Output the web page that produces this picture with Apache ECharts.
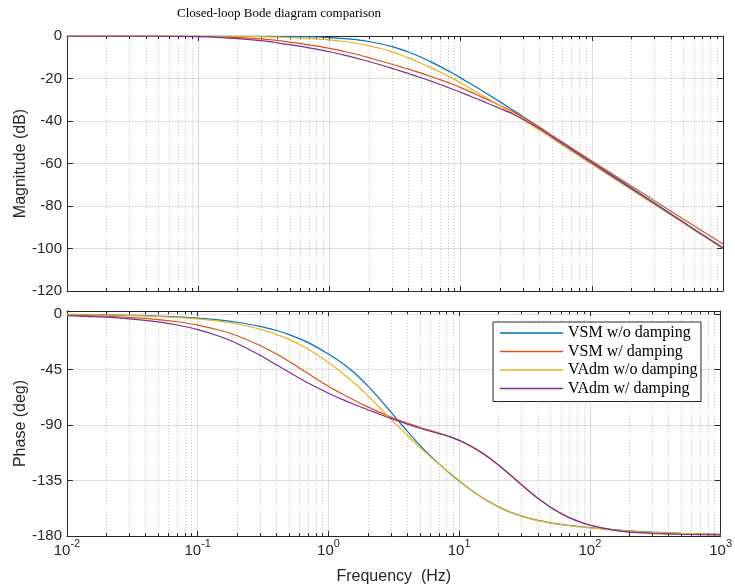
<!DOCTYPE html>
<html><head><meta charset="utf-8">
<script src="https://cdn.jsdelivr.net/npm/echarts@6/dist/echarts.min.js"></script>
<style>html,body{margin:0;padding:0;background:#fff}#c{width:735px;height:587px}</style>
</head><body><div id="c"></div>
<script>
// Frequency points (Hz)
const freq = [0.01, 0.02, 0.03, 0.05, 0.07, 0.1, 0.15, 0.2, 0.3, 0.4, 0.5, 0.7, 1, 1.3, 1.6, 2, 2.5, 3, 3.5, 4, 5, 6, 7, 8.5, 10, 12, 15, 17.5, 20, 25, 30, 35, 40, 50, 60, 70, 85, 100, 150, 200, 300, 500, 700, 1000];

// Magnitude (dB)
const magVsmNoDamp  = [0, 0, 0, 0, 0, -0.01, -0.02, -0.03, -0.07, -0.12, -0.19, -0.36, -0.72, -1.19, -1.74, -2.58, -3.76, -5.0, -6.3, -7.55, -10.0, -12.3, -14.4, -17.2, -19.7, -22.6, -26.2, -28.8, -31.0, -34.8, -38.0, -40.7, -43.0, -47.0, -50.2, -52.9, -56.4, -59.2, -66.3, -71.4, -78.6, -87.6, -93.5, -99.7];
const magVsmDamp    = [0, -0.01, -0.02, -0.05, -0.09, -0.17, -0.38, -0.65, -1.35, -2.1, -2.9, -4.2, -5.8, -7.3, -8.6, -10.2, -11.9, -13.3, -14.5, -15.6, -17.5, -19.15, -20.6, -22.5, -24.3, -26.4, -29.1, -31.0, -32.7, -35.6, -38.3, -40.8, -43.0, -46.9, -50.0, -52.7, -56.0, -58.8, -65.7, -70.6, -77.5, -86.2, -91.9, -97.9];
const magVAdmNoDamp = [0, 0, 0, -0.01, -0.02, -0.04, -0.09, -0.15, -0.3, -0.5, -0.7, -1.1, -1.8, -2.6, -3.4, -4.5, -6.0, -7.5, -8.94, -10.3, -12.8, -15.0, -16.95, -19.6, -22.0, -24.8, -28.3, -30.75, -32.9, -36.5, -39.5, -42.1, -44.4, -48.3, -51.5, -54.2, -57.6, -60.4, -67.4, -72.4, -79.3, -88.1, -93.9, -100.0];
const magVAdmDamp   = [0, -0.02, -0.04, -0.1, -0.18, -0.33, -0.72, -1.2, -2.2, -3.2, -4.1, -5.6, -7.4, -9.0, -10.4, -12.0, -13.75, -15.25, -16.55, -17.65, -19.65, -21.35, -22.85, -24.8, -26.5, -28.45, -30.9, -32.6, -34.1, -36.7, -39.15, -41.5, -43.7, -47.6, -50.8, -53.5, -56.9, -59.7, -66.8, -71.8, -78.8, -87.7, -93.6, -99.8];

// Phase (deg)
const phVsmNoDamp  = [-0.3, -0.7, -1.0, -1.7, -2.4, -3.4, -5.0, -6.7, -10.0, -13.4, -16.7, -23.2, -32.5, -40.5, -48.2, -58.3, -69.6, -79.4, -87.8, -95.0, -106.3, -114.8, -121.5, -129.3, -135.5, -141.8, -148.8, -153.1, -156.4, -161.0, -163.9, -165.9, -167.4, -169.3, -170.6, -171.5, -172.5, -173.2, -174.9, -175.9, -176.9, -177.8, -178.2, -178.6];
const phVsmDamp    = [-0.9, -1.8, -2.7, -4.5, -6.3, -9.0, -13.4, -17.6, -25.6, -32.5, -38.5, -48.3, -58.5, -65.3, -70.3, -75.3, -80.0, -83.5, -86.2, -88.4, -91.8, -94.4, -96.5, -99.4, -102.4, -106.5, -112.6, -117.6, -122.4, -131.1, -138.4, -144.4, -149.3, -156.6, -161.6, -165.2, -168.8, -171.2, -175.1, -176.7, -177.7, -178.5, -178.8, -179.0];
const phVAdmNoDamp = [-0.4, -0.8, -1.2, -2.0, -2.8, -4.0, -6.0, -8.1, -12.3, -16.5, -20.6, -28.5, -39.3, -48.6, -56.6, -66.2, -76.6, -85.2, -92.2, -98.2, -108.0, -115.6, -121.7, -128.9, -135.0, -141.8, -149.0, -153.3, -156.6, -161.2, -164.1, -166.1, -167.6, -169.5, -170.8, -171.7, -172.7, -173.4, -175.0, -176.0, -177.0, -177.9, -178.3, -178.7];
const phVAdmDamp   = [-1.3, -2.6, -3.9, -6.4, -8.9, -12.6, -18.4, -23.9, -33.5, -41.2, -47.2, -56.0, -64.2, -69.6, -73.6, -77.6, -81.5, -84.6, -87.2, -89.3, -92.6, -95.1, -97.0, -99.6, -102.5, -106.6, -112.7, -117.7, -122.5, -131.2, -138.5, -144.5, -149.4, -156.7, -161.7, -165.3, -168.9, -171.3, -175.2, -176.8, -177.8, -178.6, -178.9, -179.1];

const seriesNames = ['VSM w/o damping', 'VSM w/ damping', 'VAdm w/o damping', 'VAdm w/ damping'];
const colors = ['#0072BD', '#D95319', '#EDB120', '#7E2F8E'];
const magData = [magVsmNoDamp, magVsmDamp, magVAdmNoDamp, magVAdmDamp];
const phData = [phVsmNoDamp, phVsmDamp, phVAdmNoDamp, phVAdmDamp];

const AX = '#262626';
const SANS = 'Liberation Sans';
const SERIF = 'Liberation Serif';

function makeX(gi, pos, labels, grid, name) {
  return {
    type: 'log', logBase: 10, min: 0.01, max: 1000, gridIndex: gi, position: pos,
    name: name || '', nameLocation: 'middle', nameGap: 33, nameMoveOverlap: false,
    nameTextStyle: { fontFamily: SANS, fontSize: 16, color: AX },
    axisLine: { show: true, onZero: false, lineStyle: { color: AX, width: 1 } },
    axisTick: { show: true, inside: true, length: 5, lineStyle: { color: AX } },
    minorTick: { show: true, splitNumber: 9, length: 3, lineStyle: { color: AX } },
    splitLine: { show: grid, lineStyle: { color: 'rgba(38,38,38,0.15)', width: 1 } },
    minorSplitLine: { show: grid, lineStyle: { color: 'rgba(38,38,38,0.25)', width: 1, type: [1, 2] } },
    axisLabel: {
      show: labels, margin: 2,
      formatter: v => '{b|10}{s|' + Math.round(Math.log10(v)) + '}',
      rich: {
        b: { fontFamily: SANS, fontSize: 15, lineHeight: 20, verticalAlign: 'bottom', color: AX },
        s: { fontFamily: SANS, fontSize: 11, lineHeight: 10, verticalAlign: 'top', color: AX }
      }
    }
  };
}
function makeY(gi, pos, min, max, interval, labels, grid, name) {
  return {
    type: 'value', gridIndex: gi, position: pos, min: min, max: max, interval: interval,
    name: name || '', nameLocation: 'middle', nameGap: 38, nameMoveOverlap: false,
    nameTextStyle: { fontFamily: SANS, fontSize: 16, color: AX },
    axisLine: { show: true, onZero: false, lineStyle: { color: AX, width: 1 } },
    axisTick: { show: true, inside: true, length: 6, lineStyle: { color: AX } },
    splitLine: { show: grid, lineStyle: { color: 'rgba(38,38,38,0.15)', width: 1 } },
    axisLabel: { show: labels, margin: 5, fontFamily: SANS, fontSize: 15, color: AX, showMaxLabel: max === 0 }
  };
}

const series = [];
seriesNames.forEach((n, i) => {
  series.push({
    name: n, type: 'line', xAxisIndex: 0, yAxisIndex: 0,
    data: freq.map((f, k) => [f, magData[i][k]]),
    showSymbol: false, symbol: 'none', smooth: 0.3,
    lineStyle: { width: 1.2, color: colors[i] }, itemStyle: { color: colors[i] }
  });
});
seriesNames.forEach((n, i) => {
  series.push({
    name: n, type: 'line', xAxisIndex: 2, yAxisIndex: 2,
    data: freq.map((f, k) => [f, phData[i][k]]),
    showSymbol: false, symbol: 'none', smooth: 0.3,
    lineStyle: { width: 1.2, color: colors[i] }, itemStyle: { color: colors[i] }
  });
});

const chart = echarts.init(document.getElementById('c'));
chart.setOption({
  animation: false,
  backgroundColor: '#fff',
  title: {
    text: 'Closed-loop Bode diagram comparison', left: 177, top: 7, padding: 0,
    textStyle: { fontFamily: SERIF, fontSize: 13, fontWeight: 'normal', color: '#000' }
  },
  legend: {
    data: seriesNames, orient: 'vertical', left: 493, top: 322, icon: 'rect',
    padding: [2, 3.5, 4, 7], itemWidth: 63, itemHeight: 1.5, itemGap: 0.5,
    backgroundColor: '#fff', borderColor: AX, borderWidth: 1,
    textStyle: { fontFamily: SERIF, fontSize: 16, lineHeight: 18, color: '#000' }
  },
  grid: [
    { left: 67, top: 36, width: 656, height: 255 },
    { left: 67, top: 311, width: 656, height: 225 }
  ],
  xAxis: [
    makeX(0, 'bottom', false, true),
    makeX(0, 'top', false, false),
    makeX(1, 'bottom', true, true, 'Frequency  (Hz)'),
    makeX(1, 'top', false, false)
  ],
  yAxis: [
    makeY(0, 'left', -120, 0, 20, true, true, 'Magnitude (dB)'),
    makeY(0, 'right', -120, 0, 20, false, false),
    makeY(1, 'left', -180, 2.44, 45, true, true, 'Phase (deg)'),
    makeY(1, 'right', -180, 2.44, 45, false, false)
  ],
  series: series
});
</script></body></html>
